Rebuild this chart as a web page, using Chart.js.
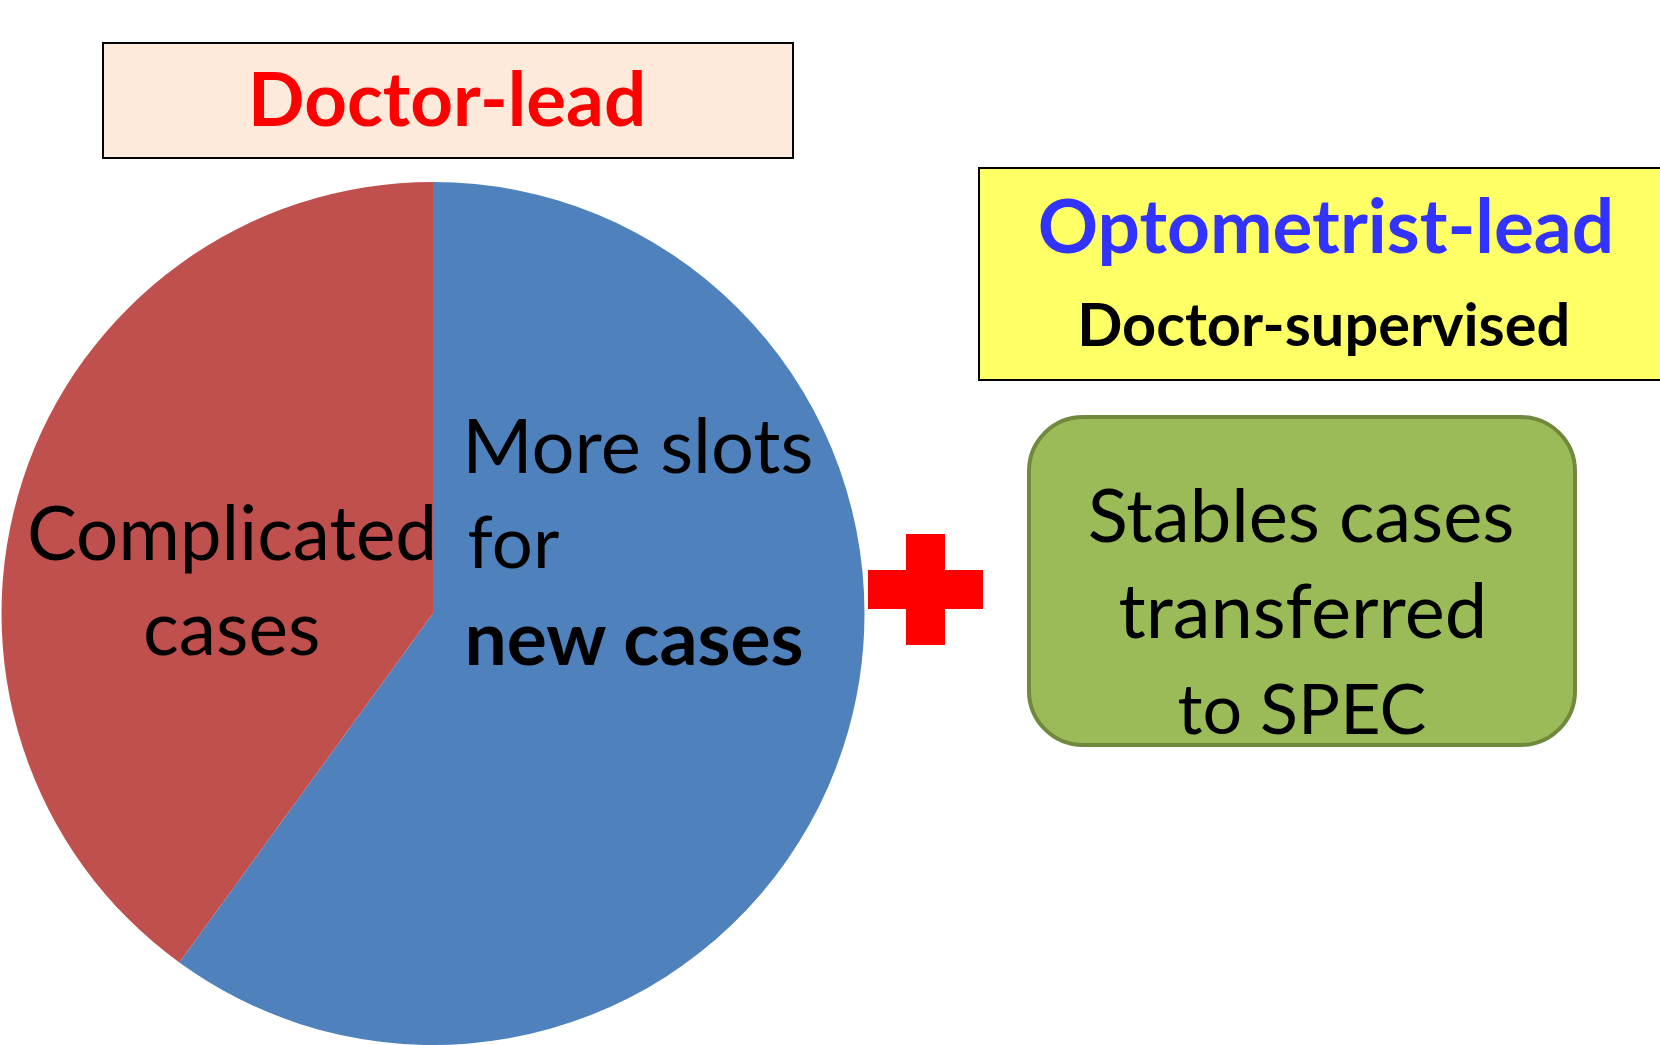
<!DOCTYPE html>
<html>
<head>
<meta charset="utf-8">
<script src="https://cdn.jsdelivr.net/npm/chart.js@4.4.1/dist/chart.umd.min.js"></script>
<style>
  html, body { margin: 0; padding: 0; background: #fff; overflow: hidden; }
  #stage { position: relative; width: 1660px; height: 1045px; overflow: hidden; font-family: Lato, sans-serif; }
  #pie { position: absolute; left: 0; top: 0; }
  .box { position: absolute; box-sizing: border-box; }
  .line { position: absolute; white-space: nowrap; }
</style>
</head>
<body>
<div id="stage">
  <canvas id="pie" width="1660" height="1045"></canvas>
  <div class="box" style="left:102px;top:42px;width:692px;height:117px;background:#FDEADA;border:2px solid #000"></div>
  <div class="box" style="left:978px;top:167px;width:720px;height:214px;background:#FFFF66;border:2px solid #000"></div>
  <div class="box" style="left:1027px;top:415px;width:550px;height:332px;background:#9BBB59;border:4px solid #71893F;border-radius:56px"></div>
  <div class="box" style="left:906px;top:534px;width:39px;height:111px;background:#FF0000"></div>
  <div class="box" style="left:868px;top:570px;width:115px;height:39px;background:#FF0000"></div>
</div>
<script>
// pie data
const sliceLabels = ["More slots for new cases", "Complicated cases"];
const sliceValues = [60, 40];
const sliceColors = ["#4F81BD", "#C0504D"];

// text lines: ink left/right edge and baseline in page pixels
const textLines = [
  { text: "Doctor-lead", bold: true, color: "#FF0000", x0: 254, x1: 642, base: 127 },
  { text: "Optometrist-lead", bold: true, color: "#3333FF", x0: 1040, x1: 1610, base: 254 },
  { text: "Doctor-supervised", bold: true, color: "#000", x0: 1082, x1: 1567, base: 347 },
  { text: "More slots", bold: false, color: "#000", x0: 469, x1: 811, base: 473 },
  { text: "for", bold: false, color: "#000", x0: 469, x1: 559, base: 568 },
  { text: "new cases", bold: true, color: "#000", x0: 469, x1: 803, base: 665 },
  { text: "Complicated", bold: false, color: "#000", x0: 30, x1: 432, base: 561 },
  { text: "cases", bold: false, color: "#000", x0: 146, x1: 318, base: 656 },
  { text: "Stables cases", bold: false, color: "#000", x0: 1090, x1: 1512, base: 543 },
  { text: "transferred", bold: false, color: "#000", x0: 1120, x1: 1482, base: 638 },
  { text: "to SPEC", bold: false, color: "#000", x0: 1179, x1: 1425, base: 734 },
];

new Chart(document.getElementById("pie"), {
  type: "pie",
  data: {
    labels: sliceLabels,
    datasets: [{ data: sliceValues, backgroundColor: sliceColors, borderWidth: 0, hoverOffset: 0 }],
  },
  options: {
    responsive: false,
    animation: false,
    layout: { padding: { left: 1, top: 182, right: 795, bottom: 0 } },
    plugins: { legend: { display: false }, tooltip: { enabled: false } },
  },
});

// place text as html, sized so the ink spans the measured width
const stage = document.getElementById("stage");
const mctx = document.createElement("canvas").getContext("2d");
textLines.forEach((t) => {
  const weight = t.bold ? 700 : 400;
  mctx.font = weight + " 100px Lato";
  const m = mctx.measureText(t.text);
  const ink = m.actualBoundingBoxLeft + m.actualBoundingBoxRight;
  const k = (t.x1 - t.x0) / ink;
  const size = 100 * k;
  const asc = m.fontBoundingBoxAscent * k;
  const desc = m.fontBoundingBoxDescent * k;
  const lh = size * 1.2;
  const baseOff = (lh - (asc + desc)) / 2 + asc;

  const el = document.createElement("span");
  el.className = "line";
  el.textContent = t.text;
  el.style.fontWeight = weight;
  el.style.fontSize = size + "px";
  el.style.lineHeight = lh + "px";
  el.style.color = t.color;
  // ink starts at origin - actualBoundingBoxLeft
  el.style.left = (t.x0 + m.actualBoundingBoxLeft * k) + "px";
  el.style.top = (t.base - baseOff) + "px";
  stage.appendChild(el);
});
</script>
</body>
</html>
